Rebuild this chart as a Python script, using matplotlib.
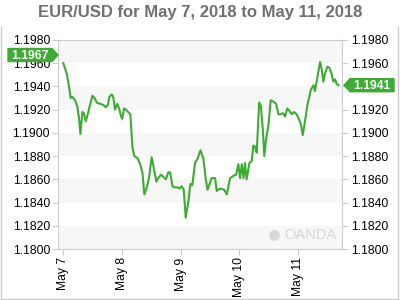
import matplotlib
matplotlib.use("Agg")
import matplotlib.pyplot as plt
from matplotlib.patches import Polygon
from matplotlib.transforms import IdentityTransform
from matplotlib.lines import Line2D

# hours since May 7, 00:00
hours = [0.1, 1.5, 2.5, 3.1, 3.8, 4.9, 5.8, 6.5, 7.1, 7.9, 8.5, 9.3, 10.1, 11.0,
         12.0, 12.8, 13.8, 15.1, 16.5, 17.4, 18.3, 18.9, 19.9, 20.5, 21.2, 22.1,
         22.9, 23.7, 24.2, 24.9, 25.7, 27.0, 27.5, 28.3, 29.1, 30.5, 31.5, 32.4,
         33.2, 34.2, 35.1, 36.2, 37.3, 38.1, 38.9, 40.0, 41.0, 42.0, 43.0, 43.7,
         44.7, 45.8, 46.9, 47.5, 48.5, 49.3, 50.1, 51.2, 52.0, 52.8, 53.9, 55.0,
         56.1, 57.3, 58.3, 59.0, 60.7, 62.1, 62.8, 64.1, 65.8, 66.9, 68.2, 69.6,
         70.7, 71.6, 72.3, 73.0, 73.7, 74.3, 75.0, 76.1, 77.1, 77.7, 78.4, 79.1,
         80.1, 80.8, 81.6, 82.2, 82.9, 83.9, 84.8, 85.9, 87.0, 88.0, 88.9, 89.8,
         90.7, 91.6, 92.4, 93.4, 94.3, 95.4, 96.5, 97.2, 97.9, 98.9, 99.8, 101.2,
         102.3, 102.9, 103.9, 105.0, 105.7, 106.3, 107.0, 108.0, 108.8, 109.8,
         110.4, 111.1, 111.8, 112.5]
prices = [1.1960, 1.1951, 1.1939, 1.1930, 1.1931, 1.1928, 1.1923, 1.1913, 1.1899,
          1.1918, 1.1917, 1.1910, 1.1916, 1.1924, 1.1932, 1.1930, 1.1926, 1.1925,
          1.1924, 1.1922, 1.1924, 1.1931, 1.1933, 1.1931, 1.1920, 1.1925, 1.1921,
          1.1914, 1.1912, 1.1921, 1.1920, 1.1917, 1.1916, 1.1888, 1.1880, 1.1878,
          1.1873, 1.1866, 1.1847, 1.1853, 1.1861, 1.1879, 1.1867, 1.1858, 1.1861,
          1.1864, 1.1862, 1.1860, 1.1866, 1.1866, 1.1854, 1.1853, 1.1853, 1.1852,
          1.1854, 1.1851, 1.1827, 1.1841, 1.1856, 1.1855, 1.1874, 1.1878, 1.1885,
          1.1878, 1.1860, 1.1851, 1.1861, 1.1861, 1.1850, 1.1852, 1.1851, 1.1847,
          1.1861, 1.1863, 1.1864, 1.1873, 1.1861, 1.1873, 1.1861, 1.1874, 1.1860,
          1.1874, 1.1876, 1.1889, 1.1888, 1.1883, 1.1926, 1.1923, 1.1903, 1.1880,
          1.1894, 1.1907, 1.1928, 1.1927, 1.1925, 1.1916, 1.1916, 1.1917, 1.1914,
          1.1921, 1.1919, 1.1916, 1.1918, 1.1916, 1.1911, 1.1907, 1.1898, 1.1911,
          1.1924, 1.1937, 1.1941, 1.1936, 1.1948, 1.1961, 1.1954, 1.1944, 1.1951,
          1.1957, 1.1956, 1.1950, 1.1944, 1.1946, 1.1942, 1.1941]

day_labels = ["May 7", "May 8", "May 9", "May 10", "May 11"]
y_ticks = [1.1800, 1.1820, 1.1840, 1.1860, 1.1880, 1.1900, 1.1920, 1.1940, 1.1960, 1.1980]
open_price = 1.1967
last_price = 1.1941

GREEN = "#3dac33"
GRID = "#cccccc"
plt.rcParams["font.family"] = ["Liberation Sans", "DejaVu Sans"]

fig = plt.figure(figsize=(4, 3), dpi=100)
ax = fig.add_axes([0.146, 0.17, 0.71, 0.697])

# alternating light bands
for i in range(0, len(y_ticks) - 1, 2):
    ax.axhspan(y_ticks[i], y_ticks[i + 1], color="#f7f7f7", lw=0, zorder=0)

ax.plot(hours, prices, color=GREEN, lw=1.5, zorder=3)

ax.set_xlim(-1.9, 114.1)
ax.set_ylim(y_ticks[0], y_ticks[-1])
ax.set_xticks([24 * i for i in range(len(day_labels))])
ax.set_xticklabels(day_labels, rotation=90, fontsize=8.7)
ax.set_yticks(y_ticks)
ax.set_yticklabels([f"{v:.4f}" for v in y_ticks], fontsize=8.7)
ax.tick_params(axis="both", length=4, width=0.8, color=GRID, pad=2)
ax.tick_params(axis="y", which="both", labelright=True, right=True)
for s in ax.spines.values():
    s.set_color(GRID)
    s.set_linewidth(0.8)

# watermark
ax.text(0.98, 0.035, "OANDA", transform=ax.transAxes, ha="right", va="bottom",
        fontsize=10.5, color="#d8d8d8", zorder=1)
ax.scatter([0.76], [0.065], s=60, transform=ax.transAxes, color="#d8d8d8",
           lw=0, zorder=1)

fig.suptitle("EUR/USD for May 7, 2018 to May 11, 2018", x=0.5, y=0.985,
             fontsize=12, fontweight="bold", color="#707070")

# outer frame
for xs, ys in [([0.002, 0.002], [0.003, 0.91]), ([0.996, 0.996], [0.003, 0.91]),
               ([0.002, 0.996], [0.004, 0.004])]:
    fig.add_artist(Line2D(xs, ys, color=GRID, lw=1, transform=fig.transFigure))


# price tags with a pointed side
def price_tag(value, x_left, x_right, tip_left):
    fig.canvas.draw()
    y = ax.transData.transform((0, value))[1]
    h = 6.5
    if tip_left:
        pts = [(x_left, y), (x_left + 6, y + h), (x_right, y + h), (x_right, y - h), (x_left + 6, y - h)]
        cx = (x_left + 6 + x_right) / 2
    else:
        pts = [(x_left, y + h), (x_right - 6, y + h), (x_right, y), (x_right - 6, y - h), (x_left, y - h)]
        cx = (x_left + x_right - 6) / 2
    fig.patches.append(Polygon(pts, closed=True, color=GREEN, transform=IdentityTransform(), zorder=5))
    fig.text(cx / 400, (y - 0.5) / 300, f"{value:.4f}", ha="center", va="center",
             fontsize=8.7, fontweight="bold", color="white", zorder=6)


price_tag(open_price, 8, 58, tip_left=False)
price_tag(last_price, 344, 394, tip_left=True)

fig.savefig("out.png", dpi=100)
